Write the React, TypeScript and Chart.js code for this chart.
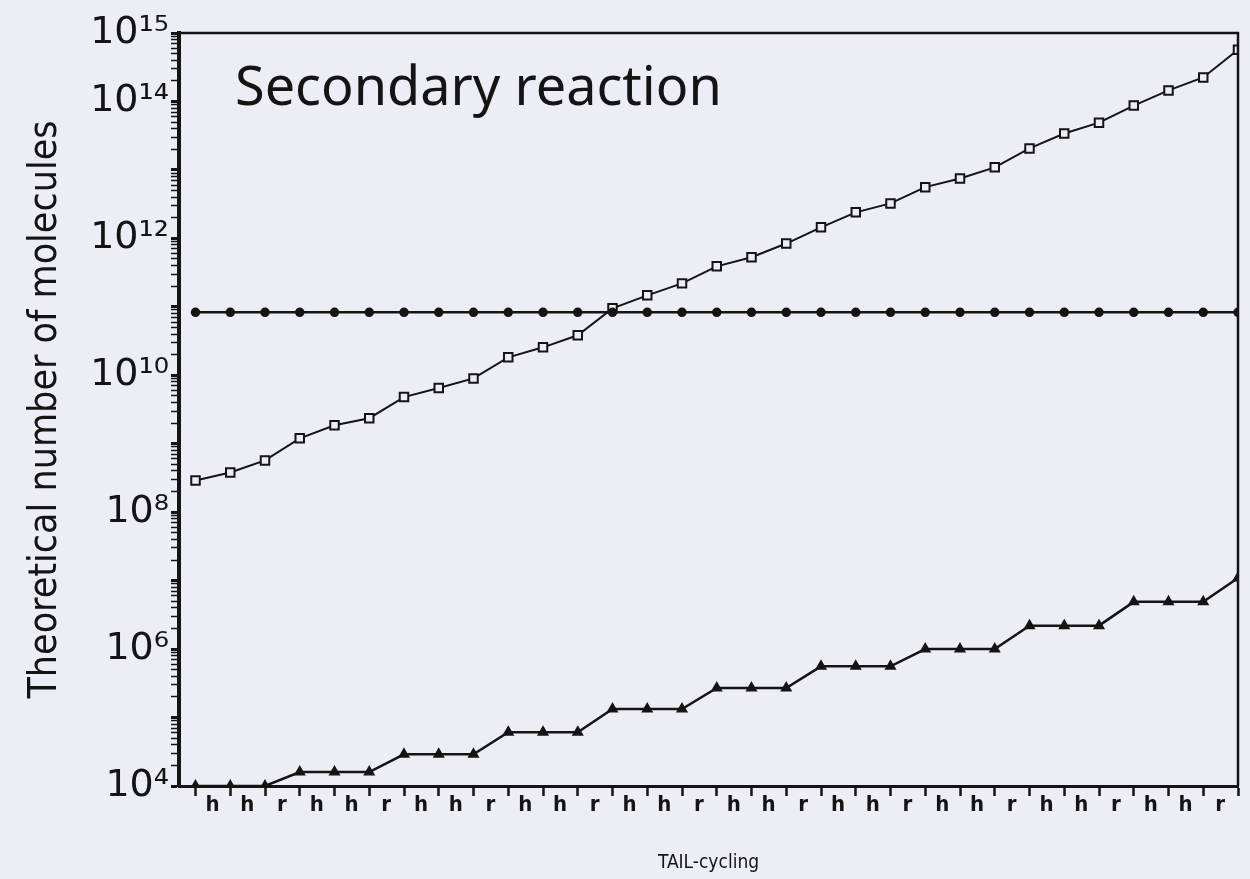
import React, { useEffect, useRef } from "react";
import { Chart, registerables } from "chart.js";

Chart.register(...registerables);

// ---- data ----
const cycleLabels = [
  "h", "h", "r", "h", "h", "r", "h", "h", "r", "h",
  "h", "r", "h", "h", "r", "h", "h", "r", "h", "h",
  "r", "h", "h", "r", "h", "h", "r", "h", "h", "r",
];
const cycleSteps = [
  0, 1, 2, 3, 4, 5, 6, 7, 8, 9, 10, 11, 12, 13, 14, 15,
  16, 17, 18, 19, 20, 21, 22, 23, 24, 25, 26, 27, 28, 29, 30,
];
// open squares
const secondaryProduct = [
  2.9e8, 3.8e8, 5.7e8, 1.2e9, 1.86e9, 2.36e9, 4.8e9, 6.5e9, 9.0e9, 1.83e10,
  2.56e10, 3.84e10, 9.5e10, 1.47e11, 2.2e11, 3.9e11, 5.3e11, 8.4e11, 1.45e12, 2.4e12,
  3.24e12, 5.6e12, 7.5e12, 1.09e13, 2.06e13, 3.4e13, 4.9e13, 8.7e13, 1.45e14, 2.24e14,
  5.7e14,
];
// filled dots, horizontal level
const thresholdLevel = [
  8.3e10, 8.3e10, 8.3e10, 8.3e10, 8.3e10, 8.3e10, 8.3e10, 8.3e10, 8.3e10, 8.3e10,
  8.3e10, 8.3e10, 8.3e10, 8.3e10, 8.3e10, 8.3e10, 8.3e10, 8.3e10, 8.3e10, 8.3e10,
  8.3e10, 8.3e10, 8.3e10, 8.3e10, 8.3e10, 8.3e10, 8.3e10, 8.3e10, 8.3e10, 8.3e10,
  8.3e10,
];
// filled triangles
const primaryProduct = [
  1e4, 1e4, 1e4, 1.6e4, 1.6e4, 1.6e4, 2.9e4, 2.9e4, 2.9e4, 6.1e4,
  6.1e4, 6.1e4, 1.33e5, 1.33e5, 1.33e5, 2.7e5, 2.7e5, 2.7e5, 5.6e5, 5.6e5,
  5.6e5, 1.0e6, 1.0e6, 1.0e6, 2.2e6, 2.2e6, 2.2e6, 4.9e6, 4.9e6, 4.9e6,
  1.09e7,
];
const yTickExponents = [4, 6, 8, 10, 12, 14, 15];
const yTickLabels = ["10⁴", "10⁶", "10⁸", "10¹⁰", "10¹²", "10¹⁴", "10¹⁵"];
const panelTitle = "Secondary reaction";
const yAxisTitle = "Theoretical number of molecules";
const xAxisTitle = "TAIL-cycling";

const BG = "#ededf5";
const INK = "#141414";

export default function App() {
  const canvasRef = useRef<HTMLCanvasElement | null>(null);

  useEffect(() => {
    const canvas = canvasRef.current;
    if (!canvas) return;

    const framePlugin = {
      id: "frameAndTitle",
      afterDatasetsDraw(chart: any) {
        const { ctx, chartArea } = chart;
        const { left, top, right, bottom } = chartArea;
        ctx.save();
        ctx.strokeStyle = INK;
        ctx.lineWidth = 2.5;
        ctx.beginPath();
        ctx.moveTo(left, top);
        ctx.lineTo(right, top);
        ctx.lineTo(right, bottom);
        ctx.stroke();
        ctx.fillStyle = INK;
        ctx.font = "54px 'Noto Sans', 'Open Sans', sans-serif";
        ctx.textAlign = "left";
        ctx.textBaseline = "alphabetic";
        ctx.fillText(panelTitle, left + 56, top + 72);
        ctx.restore();
      },
    };

    const pts = (arr: number[]) => cycleSteps.map((s, i) => ({ x: s, y: arr[i] }));

    const chart = new Chart(canvas, {
      type: "line",
      data: {
        datasets: [
          {
            label: "threshold",
            data: pts(thresholdLevel),
            borderColor: INK,
            borderWidth: 2.5,
            pointStyle: "circle",
            pointRadius: 3.5,
            pointBackgroundColor: INK,
            pointBorderColor: INK,
            tension: 0,
          },
          {
            label: "secondary",
            data: pts(secondaryProduct),
            borderColor: INK,
            borderWidth: 2,
            pointStyle: "rect",
            pointRadius: 6,
            pointBorderWidth: 2,
            pointBackgroundColor: BG,
            pointBorderColor: INK,
            tension: 0,
          },
          {
            label: "primary",
            data: pts(primaryProduct),
            borderColor: INK,
            borderWidth: 2.5,
            pointStyle: "triangle",
            pointRadius: 4.5,
            pointBackgroundColor: INK,
            pointBorderColor: INK,
            tension: 0,
          },
        ],
      },
      options: {
        responsive: false,
        animation: false,
        devicePixelRatio: 1,
        layout: { padding: { top: 33, right: 12, left: 0, bottom: 0 } },
        plugins: {
          legend: { display: false },
          tooltip: { enabled: false },
        },
        scales: {
          x: {
            type: "linear",
            min: -0.475,
            max: 30,
            afterBuildTicks: (scale: any) => {
              scale.ticks = cycleSteps.map((v) => ({ value: v }));
            },
            afterFit: (scale: any) => {
              scale.height = 93;
            },
            ticks: {
              autoSkip: false,
              maxRotation: 0,
              minRotation: 0,
              labelOffset: 17,
              padding: -4,
              color: INK,
              font: { family: "'DejaVu Sans Condensed', 'DejaVu Sans', sans-serif", size: 22, weight: "bold" },
              callback: (value: any) => {
                const i = Math.round(Number(value));
                return i >= 0 && i < cycleLabels.length ? cycleLabels[i] : "";
              },
            },
            grid: {
              display: true,
              drawOnChartArea: false,
              drawTicks: true,
              tickLength: 10,
              tickColor: INK,
              tickWidth: 2.5,
            },
            border: { display: true, color: INK, width: 3 },
            title: {
              display: true,
              text: xAxisTitle,
              color: INK,
              font: { family: "'DejaVu Sans Condensed', 'DejaVu Sans', sans-serif", size: 19 },
              padding: { top: 0, bottom: 5 },
            },
          },
          y: {
            type: "logarithmic",
            min: 1e4,
            max: 1e15,
            afterBuildTicks: (scale: any) => {
              const t: { value: number }[] = [];
              for (let e = 4; e < 15; e++) {
                for (let m = 1; m < 10; m++) t.push({ value: m * Math.pow(10, e) });
              }
              t.push({ value: 1e15 });
              scale.ticks = t;
            },
            afterFit: (scale: any) => {
              scale.width = 179;
            },
            ticks: {
              autoSkip: false,
              padding: 2,
              color: INK,
              font: { family: "'DejaVu Sans', sans-serif", size: 38 },
              callback: (value: any) => {
                const e = Math.log10(Number(value));
                const idx = yTickExponents.findIndex((k) => Math.abs(k - e) < 1e-6);
                return idx >= 0 ? yTickLabels[idx] : "";
              },
            },
            grid: {
              display: true,
              drawOnChartArea: false,
              drawTicks: true,
              tickLength: 8,
              tickColor: INK,
              tickWidth: (ctx: any) => {
                const v = ctx.tick ? ctx.tick.value : 0;
                const e = Math.log10(v);
                return Math.abs(e - Math.round(e)) < 1e-6 ? 3 : 1.5;
              },
            },
            border: { display: true, color: INK, width: 4 },
            title: {
              display: true,
              text: yAxisTitle,
              color: INK,
              font: { family: "'DejaVu Sans Condensed', 'DejaVu Sans', sans-serif", size: 39 },
              padding: { top: 22, bottom: 0 },
            },
          },
        },
      },
      plugins: [framePlugin],
    } as any);

    return () => {
      chart.destroy();
    };
  }, []);

  return (
    <div
      style={{
        position: "fixed",
        left: 0,
        top: 0,
        width: 1250,
        height: 879,
        background: BG,
      }}
    >
      <canvas ref={canvasRef} width={1250} height={879} style={{ display: "block" }} />
    </div>
  );
}
